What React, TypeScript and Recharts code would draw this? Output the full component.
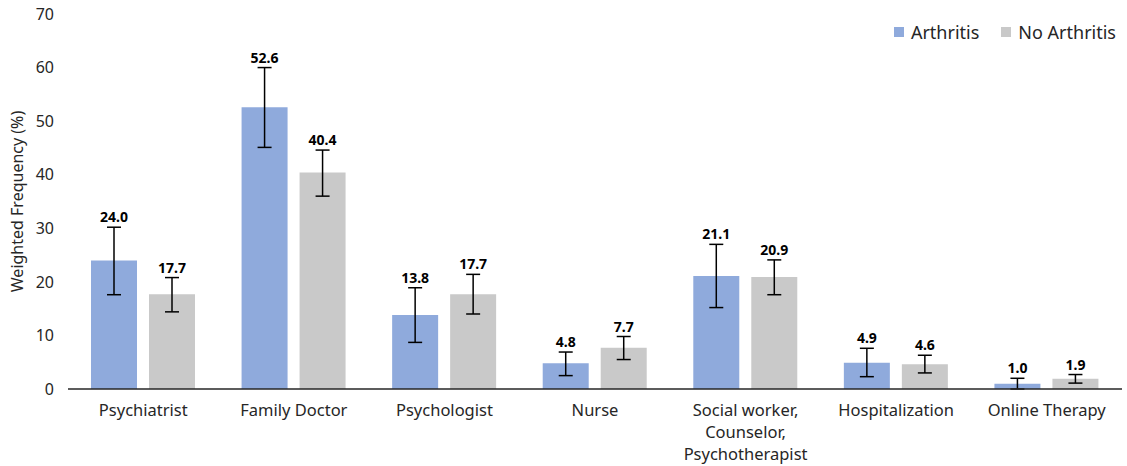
import React from "react";
import {
  BarChart, Bar, XAxis, YAxis, ErrorBar, LabelList,
} from "recharts";

const categories = [
  "Psychiatrist", "Family Doctor", "Psychologist", "Nurse",
  "Social worker, Counselor, Psychotherapist", "Hospitalization", "Online Therapy",
];
const arthritis = [24.0, 52.6, 13.8, 4.8, 21.1, 4.9, 1.0];
const noArthritis = [17.7, 40.4, 17.7, 7.7, 20.9, 4.6, 1.9];
// confidence interval bounds
const arthritisLow = [17.6, 45.1, 8.7, 2.5, 15.2, 2.3, 0.0];
const arthritisHigh = [30.2, 60.0, 18.9, 6.9, 27.0, 7.6, 2.0];
const noArthritisLow = [14.4, 36.0, 14.0, 5.5, 17.6, 3.0, 1.1];
const noArthritisHigh = [20.8, 44.6, 21.4, 9.8, 24.1, 6.3, 2.7];
const yTicks = [0, 10, 20, 30, 40, 50, 60, 70];

const BLUE = "#8FAADC";
const GRAY = "#C9C9C9";
const FONT = "'Noto Sans', sans-serif";

const data = categories.map((name, i) => ({
  name,
  a: arthritis[i],
  na: noArthritis[i],
  aErr: [arthritis[i] - arthritisLow[i], arthritisHigh[i] - arthritis[i]],
  naErr: [noArthritis[i] - noArthritisLow[i], noArthritisHigh[i] - noArthritis[i]],
}));

const CategoryTick = ({ x, y, payload }: any) => {
  const parts = String(payload.value).split(", ");
  const lines = parts.map((p, i) => (i < parts.length - 1 ? p + "," : p));
  return (
    <text x={x} y={y} textAnchor="middle" fontFamily={FONT} fontSize={16.5} fill="#262626">
      {lines.map((l, i) => (
        <tspan key={i} x={x} dy={i === 0 ? 19 : 22}>{l}</tspan>
      ))}
    </text>
  );
};

const makeLabel = (highs: number[]) => (props: any) => {
  const { x, y, width, height, value, index } = props;
  const base = y + height;
  const pxPerUnit = height / value;
  const top = base - highs[index] * pxPerUnit;
  return (
    <text
      x={x + width / 2}
      y={top - 5}
      textAnchor="middle"
      fontFamily={FONT}
      fontSize={14}
      fontWeight="bold"
      fill="#000"
    >
      {value.toFixed(1)}
    </text>
  );
};

const LegendBox = () => (
  <div
    style={{
      position: "absolute", top: 20, right: 11, display: "flex", gap: 22,
      fontFamily: FONT, fontSize: 18, color: "#262626",
    }}
  >
    {[["Arthritis", BLUE], ["No Arthritis", GRAY]].map(([label, color]) => (
      <div key={label} style={{ display: "flex", alignItems: "center", gap: 7 }}>
        <span style={{ width: 10, height: 10, background: color, display: "inline-block" }} />
        <span>{label}</span>
      </div>
    ))}
  </div>
);

export default function App() {
  return (
    <div style={{ position: "absolute", left: 0, top: 0, width: 1127, height: 466, background: "#fff" }}>
      <BarChart
        width={1127}
        height={466}
        data={data}
        margin={{ top: 14, right: 5, left: 0, bottom: 47 }}
        barGap={12}
        barSize={46}
      >
        <XAxis
          dataKey="name"
          tick={<CategoryTick />}
          tickLine={false}
          axisLine={{ stroke: "#262626", strokeWidth: 1.5 }}
          interval={0}
        />
        <YAxis
          width={68}
          domain={[0, 70]}
          ticks={yTicks}
          axisLine={false}
          tickLine={false}
          tick={{ fontFamily: FONT, fontSize: 16, fill: "#262626", dx: -6 }}
          label={{
            value: "Weighted Frequency (%)",
            angle: -90,
            position: "insideLeft",
            offset: 17,
            style: { textAnchor: "middle", fontFamily: FONT, fontSize: 16, fill: "#262626" },
          }}
        />
        <Bar dataKey="a" name="Arthritis" fill={BLUE} isAnimationActive={false}>
          <ErrorBar dataKey="aErr" width={7} stroke="#000" strokeWidth={1.5} />
          <LabelList dataKey="a" content={makeLabel(arthritisHigh)} />
        </Bar>
        <Bar dataKey="na" name="No Arthritis" fill={GRAY} isAnimationActive={false}>
          <ErrorBar dataKey="naErr" width={7} stroke="#000" strokeWidth={1.5} />
          <LabelList dataKey="na" content={makeLabel(noArthritisHigh)} />
        </Bar>
      </BarChart>
      <LegendBox />
    </div>
  );
}
